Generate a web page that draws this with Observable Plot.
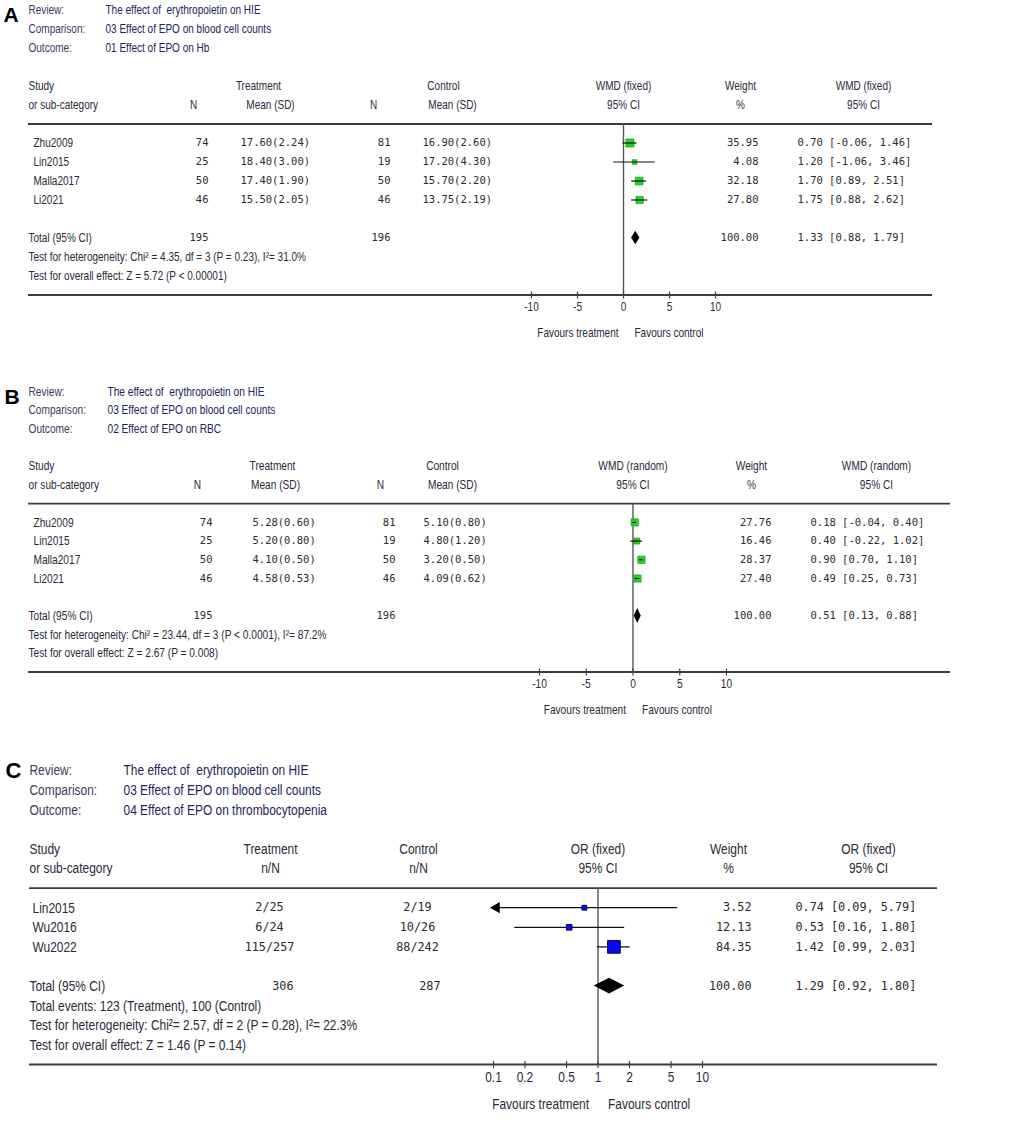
<!DOCTYPE html>
<html><head><meta charset="utf-8">
<script src="https://cdn.jsdelivr.net/npm/d3@7"></script>
<script src="https://cdn.jsdelivr.net/npm/@observablehq/plot@0.6"></script>
<style>
body{margin:0;background:#fff;}
#chart{width:1013px;}
#chart svg{display:block;background:#fff;}
#chart svg text{white-space:pre;}
</style></head><body><div id="chart"></div>
<script>
// ---------- shared text ----------
const headLabels = ["Review:", "Comparison:", "Outcome:"];
const reviewTitle = "The effect of  erythropoietin on HIE";
const comparisonTitle = "03 Effect of EPO on blood cell counts";
const contHeadTop = ["Study", "Treatment", "Control", "Weight"];
const contHeadBottom = ["or sub-category", "N", "Mean (SD)", "N", "Mean (SD)", "95% CI", "%", "95% CI"];
const binHeadTop = ["Study", "Treatment", "Control", "Weight"];
const binHeadBottom = ["or sub-category", "n/N", "n/N", "95% CI", "%", "95% CI"];
const favours = ["Favours treatment", "Favours control"];

// ---------- Panel A: Hb ----------
const aOutcome = "01 Effect of EPO on Hb";
const aMeasure = "WMD (fixed)";
const aStudies = ["Zhu2009", "Lin2015", "Malla2017", "Li2021"];
const aTreatN = [74, 25, 50, 46];
const aTreatMean = [17.60, 18.40, 17.40, 15.50];
const aTreatSD = [2.24, 3.00, 1.90, 2.05];
const aCtrlN = [81, 19, 50, 46];
const aCtrlMean = [16.90, 17.20, 15.70, 13.75];
const aCtrlSD = [2.60, 4.30, 2.20, 2.19];
const aWeight = [35.95, 4.08, 32.18, 27.80];
const aEst = [0.70, 1.20, 1.70, 1.75];
const aLo = [-0.06, -1.06, 0.89, 0.88];
const aHi = [1.46, 3.46, 2.51, 2.62];
const aTotalN = [195, 196];
const aTotal = {weight: 100.00, est: 1.33, lo: 0.88, hi: 1.79};
const aNotes = ["Test for heterogeneity: Chi\u00b2 = 4.35, df = 3 (P = 0.23), I\u00b2= 31.0%",
                "Test for overall effect: Z = 5.72 (P < 0.00001)"];
const aTicks = [-10, -5, 0, 5, 10];

// ---------- Panel B: RBC ----------
const bOutcome = "02 Effect of EPO on RBC";
const bMeasure = "WMD (random)";
const bStudies = ["Zhu2009", "Lin2015", "Malla2017", "Li2021"];
const bTreatN = [74, 25, 50, 46];
const bTreatMean = [5.28, 5.20, 4.10, 4.58];
const bTreatSD = [0.60, 0.80, 0.50, 0.53];
const bCtrlN = [81, 19, 50, 46];
const bCtrlMean = [5.10, 4.80, 3.20, 4.09];
const bCtrlSD = [0.80, 1.20, 0.50, 0.62];
const bWeight = [27.76, 16.46, 28.37, 27.40];
const bEst = [0.18, 0.40, 0.90, 0.49];
const bLo = [-0.04, -0.22, 0.70, 0.25];
const bHi = [0.40, 1.02, 1.10, 0.73];
const bTotalN = [195, 196];
const bTotal = {weight: 100.00, est: 0.51, lo: 0.13, hi: 0.88};
const bNotes = ["Test for heterogeneity: Chi\u00b2 = 23.44, df = 3 (P < 0.0001), I\u00b2= 87.2%",
                "Test for overall effect: Z = 2.67 (P = 0.008)"];
const bTicks = [-10, -5, 0, 5, 10];

// ---------- Panel C: thrombocytopenia ----------
const cOutcome = "04 Effect of EPO on thrombocytopenia";
const cMeasure = "OR (fixed)";
const cStudies = ["Lin2015", "Wu2016", "Wu2022"];
const cTreatEvents = [2, 6, 115];
const cTreatN = [25, 24, 257];
const cCtrlEvents = [2, 10, 88];
const cCtrlN = [19, 26, 242];
const cWeight = [3.52, 12.13, 84.35];
const cEst = [0.74, 0.53, 1.42];
const cLo = [0.09, 0.16, 0.99];
const cHi = [5.79, 1.80, 2.03];
const cTotalN = [306, 287];
const cTotal = {weight: 100.00, est: 1.29, lo: 0.92, hi: 1.80};
const cNotes = ["Total events: 123 (Treatment), 100 (Control)",
                "Test for heterogeneity: Chi\u00b2= 2.57, df = 2 (P = 0.28), I\u00b2= 22.3%",
                "Test for overall effect: Z = 1.46 (P = 0.14)"];
const cTicks = [0.1, 0.2, 0.5, 1, 2, 5, 10];

// ---------- drawing ----------
const SANS = "Liberation Sans, Arial, sans-serif";
const MONO = "DejaVu Sans Mono, Liberation Mono, monospace";
const f2 = v => v.toFixed(2);

function panel(cfg, d) {
  const ml = cfg.ml, mr = 1013 - cfg.lineRight;
  const n = d.studies.length;
  const idx = d3.range(n);
  const R = {hline: 6, study0: 7, total: 7 + n + 1, axis: 15, fav: 17};
  const row = i => R.study0 + i;
  const [xmin, xmax] = cfg.x.domain;
  const clamp = v => Math.max(xmin, Math.min(xmax, v));
  const K = v => () => v;

  const col = (data, y, text, px, anchor, o = {}) => Plot.text(data, {
    y, text, frameAnchor: "left", textAnchor: anchor, dx: px - ml,
    fontFamily: o.mono ? MONO : SANS, fontSize: o.mono ? cfg.mono : cfg.sans,
    fill: o.fill || (o.mono ? "#2c2c2c" : "#2a2a3a"), dy: o.dy || 0
  });
  const c = cfg.cols;
  const marks = [];

  marks.push(Plot.text([cfg.letter], {y: K(0), text: t => t, frameAnchor: "left", textAnchor: "start",
    dx: c.letter - ml, dy: cfg.letterDy, fontFamily: "Arial, Liberation Sans, sans-serif",
    fontSize: cfg.letterSize, fontWeight: "bold", fill: "#000"}));
  marks.push(col(headLabels, (t, i) => i, t => t, c.label, "start", {fill: "#3a3a5e"}));
  marks.push(col([reviewTitle, comparisonTitle, d.outcome], (t, i) => i, t => t, c.value, "start", {fill: "#23235e"}));

  if (d.kind === "cont") {
    marks.push(col([contHeadTop[0]], K(4), t => t, c.label, "start"));
    marks.push(col([contHeadTop[1]], K(4), t => t, c.tHead, "middle"));
    marks.push(col([contHeadTop[2]], K(4), t => t, c.cHead, "middle"));
    marks.push(col([contHeadTop[3]], K(4), t => t, c.wHead, "middle"));
    marks.push(col([contHeadBottom[0]], K(5), t => t, c.label, "start"));
    marks.push(col([contHeadBottom[1]], K(5), t => t, c.n1Head, "middle"));
    marks.push(col([contHeadBottom[2]], K(5), t => t, c.m1Head, "middle"));
    marks.push(col([contHeadBottom[3]], K(5), t => t, c.n2Head, "middle"));
    marks.push(col([contHeadBottom[4]], K(5), t => t, c.m2Head, "middle"));
    marks.push(col([contHeadBottom[6]], K(5), t => t, c.wHead, "middle"));
    marks.push(col([d.measure], K(4), t => t, c.ciHead, "middle"));
    marks.push(col([contHeadBottom[7]], K(5), t => t, c.ciHead, "middle"));
  } else {
    marks.push(col([binHeadTop[0]], K(4), t => t, c.label, "start"));
    marks.push(col([binHeadTop[1]], K(4), t => t, c.tHead, "middle"));
    marks.push(col([binHeadTop[2]], K(4), t => t, c.cHead, "middle"));
    marks.push(col([binHeadTop[3]], K(4), t => t, c.wHead, "middle"));
    marks.push(col([binHeadBottom[0]], K(5), t => t, c.label, "start"));
    marks.push(col([binHeadBottom[1]], K(5), t => t, c.tHead, "middle"));
    marks.push(col([binHeadBottom[2]], K(5), t => t, c.cHead, "middle"));
    marks.push(col([binHeadBottom[4]], K(5), t => t, c.wHead, "middle"));
    marks.push(col([d.measure], K(4), t => t, c.ciHead, "middle"));
    marks.push(col([binHeadBottom[5]], K(5), t => t, c.ciHead, "middle"));
  }
  const hs = {fontFamily: SANS, fontSize: cfg.sans, fill: "#2a2a3a", textAnchor: "middle"};
  marks.push(Plot.text([d.measure], {x: K(cfg.zero), y: K(4), text: t => t, ...hs}));
  marks.push(Plot.text(["95% CI"], {x: K(cfg.zero), y: K(5), text: t => t, ...hs}));

  marks.push(Plot.ruleY([R.hline, R.axis], {stroke: "#3c3c3c", strokeWidth: 1.8}));
  marks.push(Plot.ruleX([cfg.zero], {x: v => v, y1: K(R.hline), y2: K(R.axis), stroke: "#555", strokeWidth: 1.4}));

  const ci = Plot.ruleY(idx, {y: row, x1: i => clamp(d.lo[i]), x2: i => clamp(d.hi[i]), stroke: "#111", strokeWidth: 1.2});
  const sq = Plot.dot(idx, {x: i => d.est[i], y: row, r: i => d.weight[i], symbol: "square",
    fill: cfg.sqFill, stroke: cfg.sqStroke, strokeWidth: cfg.sqStrokeWidth});
  if (cfg.linesOnTop) marks.push(sq, ci); else marks.push(ci, sq);
  marks.push(Plot.dot(idx.filter(i => d.lo[i] < xmin), {x: K(xmin), y: row, symbol: "triangle", rotate: -90,
    r: 4.2, fill: "#000", dx: 3}));
  marks.push(Plot.dot(idx.filter(i => d.hi[i] > xmax), {x: K(xmax), y: row, symbol: "triangle", rotate: 90,
    r: 4.2, fill: "#000", dx: -3}));

  const T = d.total;
  marks.push(Plot.areaX([
    {y: R.total - cfg.dh, x1: T.est, x2: T.est},
    {y: R.total, x1: T.lo, x2: T.hi},
    {y: R.total + cfg.dh, x1: T.est, x2: T.est}
  ], {y: "y", x1: "x1", x2: "x2", fill: "#000", curve: "linear"}));

  marks.push(col(d.studies, (t, i) => row(i), t => t, c.study, "start"));
  if (d.kind === "cont") {
    marks.push(col(idx, row, i => String(d.tN[i]), c.n1, "end", {mono: true}));
    marks.push(col(idx, row, i => `${f2(d.tMean[i])}(${f2(d.tSD[i])})`, c.m1, "start", {mono: true}));
    marks.push(col(idx, row, i => String(d.cN[i]), c.n2, "end", {mono: true}));
    marks.push(col(idx, row, i => `${f2(d.cMean[i])}(${f2(d.cSD[i])})`, c.m2, "start", {mono: true}));
  } else {
    marks.push(col(idx, row, i => `${d.tE[i]}/${d.tN[i]}`, c.nN1, "middle", {mono: true}));
    marks.push(col(idx, row, i => `${d.cE[i]}/${d.cN[i]}`, c.nN2, "middle", {mono: true}));
  }
  marks.push(col(idx, row, i => f2(d.weight[i]), c.w, "end", {mono: true}));
  marks.push(col(idx, row, i => `${f2(d.est[i])} [${f2(d.lo[i])}, ${f2(d.hi[i])}]`, c.ci, "start", {mono: true}));

  marks.push(col(["Total (95% CI)"], K(R.total), t => t, c.label, "start"));
  marks.push(col([d.totalN[0]], K(R.total), v => String(v), c.tot1, "end", {mono: true}));
  marks.push(col([d.totalN[1]], K(R.total), v => String(v), c.tot2, "end", {mono: true}));
  marks.push(col([T], K(R.total), t => f2(t.weight), c.w, "end", {mono: true}));
  marks.push(col([T], K(R.total), t => `${f2(t.est)} [${f2(t.lo)}, ${f2(t.hi)}]`, c.ci, "start", {mono: true}));
  marks.push(col(d.notes, (t, i) => R.total + 1 + i, t => t, c.label, "start"));

  marks.push(Plot.ruleX(d.ticks, {x: v => v, y1: K(R.axis), y2: K(R.axis), insetTop: -3, insetBottom: -4, stroke: "#444", strokeWidth: 1.2}));
  marks.push(Plot.text(d.ticks, {x: v => v, y: K(R.axis), dy: cfg.tickDy, text: v => String(v),
    fontFamily: SANS, fontSize: cfg.sans, fill: "#2a2a3a"}));
  marks.push(Plot.text([favours[0]], {x: K(cfg.zero), y: K(R.fav), text: t => t, textAnchor: "end", dx: cfg.favDx[0],
    fontFamily: SANS, fontSize: cfg.sans, fill: "#2a2a3a"}));
  marks.push(Plot.text([favours[1]], {x: K(cfg.zero), y: K(R.fav), text: t => t, textAnchor: "start", dx: cfg.favDx[1],
    fontFamily: SANS, fontSize: cfg.sans, fill: "#2a2a3a"}));

  const svg = Plot.plot({
    width: 1013, height: cfg.height,
    marginTop: 0, marginBottom: 0, marginLeft: ml, marginRight: mr,
    x: {...cfg.x, axis: null},
    y: {type: "linear", domain: [0, 17], range: [cfg.top, cfg.top + 17 * cfg.step], axis: null},
    r: {type: "linear", domain: [0, 100], range: cfg.rRange},
    style: {background: "#fff"},
    marks
  });
  svg.dataset.squeeze = cfg.squeeze;
  return svg;
}

const chart = document.getElementById("chart");
chart.append(panel({
  letter: "A", letterDy: 5, letterSize: 21, height: 365, top: 9.5, step: 19, ml: 28, lineRight: 932,
  x: {type: "linear", domain: [-10, 10], range: [531, 715]}, zero: 0,
  cols: {letter: 3, label: 28, value: 105, study: 33, tHead: 258, cHead: 443, wHead: 740, ciHead: 863,
         n1Head: 193, m1Head: 270, n2Head: 373, m2Head: 452, n1: 208, m1: 240, n2: 390, m2: 422,
         tot1: 208, tot2: 390, w: 758, ci: 797},
  sans: 13, squeeze: 0.77, mono: 10.5, tickDy: 12, favDx: [-5, 11], dh: 0.36, rRange: [2.4, 8.5],
  sqFill: "#22d422", sqStroke: "#119911", sqStrokeWidth: 0.6, linesOnTop: true
}, {kind: "cont", outcome: aOutcome, measure: aMeasure, studies: aStudies, tN: aTreatN, tMean: aTreatMean, tSD: aTreatSD,
    cN: aCtrlN, cMean: aCtrlMean, cSD: aCtrlSD, weight: aWeight, est: aEst, lo: aLo, hi: aHi,
    totalN: aTotalN, total: aTotal, notes: aNotes, ticks: aTicks}));

chart.append(panel({
  letter: "B", letterDy: 6, letterSize: 21, height: 390, top: 26, step: 18.7, ml: 28, lineRight: 950,
  x: {type: "linear", domain: [-10, 10], range: [539, 726]}, zero: 0,
  cols: {letter: 4, label: 28, value: 107, study: 33, tHead: 272, cHead: 442, wHead: 751, ciHead: 876,
         n1Head: 197, m1Head: 275, n2Head: 380, m2Head: 452, n1: 212, m1: 252, n2: 395, m2: 423,
         tot1: 212, tot2: 395, w: 771, ci: 810},
  sans: 13, squeeze: 0.78, mono: 10.5, tickDy: 12, favDx: [-7, 9], dh: 0.4, rRange: [2.4, 8.5],
  sqFill: "#22d422", sqStroke: "#119911", sqStrokeWidth: 0.6, linesOnTop: true
}, {kind: "cont", outcome: bOutcome, measure: bMeasure, studies: bStudies, tN: bTreatN, tMean: bTreatMean, tSD: bTreatSD,
    cN: bCtrlN, cMean: bCtrlMean, cSD: bCtrlSD, weight: bWeight, est: bEst, lo: bLo, hi: bHi,
    totalN: bTotalN, total: bTotal, notes: bNotes, ticks: bTicks}));

chart.append(panel({
  letter: "C", letterDy: 0, letterSize: 22, height: 369, top: 15, step: 19.6, ml: 29, lineRight: 937,
  x: {type: "log", domain: [0.1, 10], range: [493, 702]}, zero: 1,
  cols: {letter: 5, label: 29, value: 123, study: 32, tHead: 270, cHead: 418, wHead: 728, ciHead: 868,
         nN1: 269, nN2: 417, tot1: 293, tot2: 440, w: 751, ci: 795},
  sans: 15.5, squeeze: 0.77, mono: 11.8, tickDy: 13, favDx: [-9, 10], dh: 0.4, rRange: [2.5, 8],
  sqFill: "#0a0aee", sqStroke: "#00006a", sqStrokeWidth: 1, linesOnTop: false
}, {kind: "bin", outcome: cOutcome, measure: cMeasure, studies: cStudies, tE: cTreatEvents, tN: cTreatN,
    cE: cCtrlEvents, cN: cCtrlN, weight: cWeight, est: cEst, lo: cLo, hi: cHi,
    totalN: cTotalN, total: cTotal, notes: cNotes, ticks: cTicks}));

// The reference uses a condensed sans face; narrow the installed sans glyphs to match.
for (const svg of chart.querySelectorAll("svg")) {
  const k = +svg.dataset.squeeze;
  for (const t of svg.querySelectorAll('g[font-family^="Liberation Sans"] text')) {
    const L = t.getComputedTextLength();
    if (L > 0) {
      t.setAttribute("textLength", (L * k).toFixed(2));
      t.setAttribute("lengthAdjust", "spacingAndGlyphs");
    }
  }
}
</script></body></html>
